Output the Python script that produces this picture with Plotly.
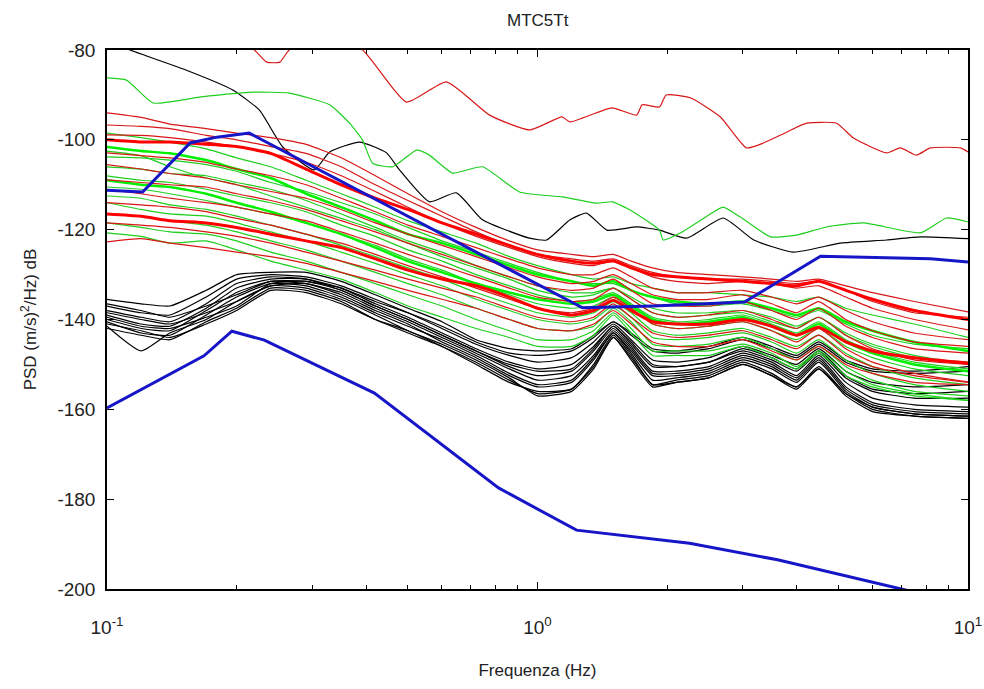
import plotly.graph_objects as go

# ---------------- data ----------------
F = [0.10, 0.12, 0.14, 0.17, 0.20, 0.24, 0.29, 0.35, 0.42, 0.50, 0.60, 0.72, 0.86, 1.0,
     1.2, 1.35, 1.5, 1.65, 1.85, 2.1, 2.5, 3.0, 3.5, 4.0, 4.5, 5.2, 6.0, 7.5, 10.0]

black_lines = [
    [-135.5, -136.5, -137.0, -133.5, -130.0, -129.5, -129.5, -131.5, -134.5, -137.5, -140.5, -144.5, -146.5, -147.0, -146.5, -143.5, -140.5, -143.5, -147.0, -147.5, -146.5, -144.5, -146.5, -148.5, -145.5, -149.5, -151.5, -152.0, -151.5],
    [-137.0, -138.5, -139.0, -135.0, -131.0, -130.0, -130.5, -132.5, -135.5, -138.5, -142.0, -145.5, -148.0, -149.5, -148.5, -145.0, -141.0, -144.5, -149.0, -149.5, -148.5, -146.0, -148.0, -150.0, -146.5, -151.5, -154.0, -155.0, -154.5],
    [-138.0, -139.5, -140.5, -136.5, -132.0, -130.5, -131.0, -133.0, -136.5, -139.5, -143.0, -146.5, -149.5, -151.0, -150.0, -146.0, -141.5, -145.5, -150.5, -150.5, -149.5, -147.0, -149.0, -151.5, -147.5, -153.0, -156.0, -157.5, -157.5],
    [-139.0, -141.0, -141.5, -137.5, -133.0, -131.0, -131.0, -133.5, -137.0, -140.0, -143.5, -147.0, -150.5, -152.5, -151.5, -147.0, -142.0, -146.0, -151.5, -151.5, -150.5, -147.5, -149.5, -152.5, -148.0, -154.0, -157.5, -159.0, -159.5],
    [-140.0, -142.0, -142.5, -138.0, -134.0, -131.5, -132.0, -134.0, -137.5, -140.5, -144.0, -147.5, -151.0, -153.5, -152.5, -148.0, -142.5, -146.5, -152.0, -152.0, -151.0, -148.0, -150.0, -153.0, -148.5, -155.0, -158.5, -160.0, -160.5],
    [-140.5, -143.0, -143.5, -139.0, -135.0, -132.0, -132.5, -135.0, -138.5, -141.5, -144.5, -148.0, -152.0, -154.5, -153.5, -148.5, -143.0, -147.0, -152.5, -152.5, -151.5, -148.5, -150.5, -153.5, -149.0, -155.5, -159.0, -160.5, -161.0],
    [-141.5, -147.0, -143.0, -140.0, -136.0, -132.5, -132.0, -134.5, -138.0, -141.0, -145.0, -148.5, -152.5, -155.0, -154.0, -149.0, -143.0, -147.5, -153.5, -153.0, -152.0, -149.0, -151.0, -154.0, -149.5, -156.0, -159.5, -161.0, -161.5],
    [-142.0, -143.5, -144.5, -140.5, -137.5, -133.0, -133.5, -136.0, -140.0, -143.0, -146.0, -149.5, -153.5, -156.5, -155.5, -150.0, -143.5, -148.0, -154.5, -153.5, -152.5, -149.5, -152.0, -155.0, -150.5, -156.5, -160.0, -161.5, -162.0],
    [-138.5, -140.0, -141.0, -138.5, -136.0, -132.5, -133.0, -135.5, -139.0, -142.5, -145.5, -149.0, -153.0, -157.0, -156.0, -151.0, -144.0, -149.0, -155.0, -154.0, -153.0, -150.0, -152.5, -155.0, -151.0, -156.5, -159.5, -161.0, -161.5],
    [-136.5, -138.0, -139.5, -137.0, -134.5, -131.5, -131.5, -133.0, -136.0, -138.5, -141.5, -145.0, -147.5, -148.0, -147.0, -144.0, -140.5, -143.0, -146.5, -147.0, -146.0, -144.0, -146.0, -148.0, -145.0, -149.0, -151.0, -151.5, -150.5],
    [-139.5, -141.5, -142.0, -139.5, -137.0, -132.0, -131.5, -133.5, -137.0, -140.0, -143.5, -147.0, -150.0, -151.5, -151.0, -146.5, -141.5, -145.0, -150.0, -150.5, -149.5, -146.5, -148.5, -151.0, -147.0, -152.5, -155.5, -156.5, -156.0],
    [-141.0, -142.5, -144.0, -141.0, -138.0, -133.5, -134.0, -136.5, -140.0, -142.5, -146.0, -150.0, -154.0, -156.0, -155.5, -150.5, -144.0, -148.5, -154.5, -154.0, -153.0, -150.0, -152.5, -155.5, -151.0, -157.0, -160.5, -161.5, -162.0],
]

green_lines = [
    [-98.5, -99.5, -100.5, -102.0, -104.0, -106.0, -109.0, -112.0, -115.0, -118.0, -120.5, -123.0, -126.0, -128.0, -130.0, -131.0, -130.5, -132.0, -133.0, -134.0, -134.0, -134.5, -135.0, -136.0, -135.0, -137.5, -139.0, -141.0, -144.0],
    [-103.8, -104.0, -104.5, -105.5, -107.0, -109.5, -111.5, -114.0, -116.5, -119.5, -122.5, -125.0, -127.5, -129.5, -131.5, -132.0, -132.0, -133.5, -135.0, -136.5, -137.0, -136.5, -138.0, -139.5, -138.0, -141.0, -143.5, -145.5, -146.5],
    [-106.0, -106.5, -107.5, -108.0, -109.5, -111.0, -113.5, -116.5, -119.5, -122.5, -125.0, -128.0, -130.5, -132.5, -134.0, -134.0, -133.0, -135.0, -137.5, -138.5, -138.5, -138.0, -139.5, -141.5, -139.5, -143.0, -145.5, -148.0, -150.0],
    [-108.0, -109.0, -109.5, -111.0, -112.5, -114.0, -116.0, -119.0, -121.5, -124.5, -127.0, -130.0, -132.5, -134.5, -136.0, -135.5, -134.0, -136.5, -139.5, -140.5, -140.0, -139.0, -141.0, -143.0, -140.5, -144.5, -147.0, -149.5, -151.0],
    [-110.5, -111.0, -112.0, -113.5, -115.0, -116.5, -118.5, -121.0, -123.5, -126.5, -129.0, -132.0, -134.5, -136.5, -137.5, -137.0, -135.0, -137.5, -141.0, -142.0, -141.5, -140.5, -142.5, -144.5, -142.0, -146.0, -148.5, -151.0, -152.5],
    [-112.5, -113.0, -114.5, -115.5, -117.0, -119.0, -121.0, -123.5, -126.0, -128.5, -131.0, -134.0, -136.5, -138.5, -139.5, -138.5, -136.0, -138.5, -142.5, -143.5, -143.0, -142.0, -144.0, -146.0, -143.5, -147.5, -150.5, -153.0, -154.5],
    [-114.0, -115.5, -116.5, -117.0, -118.5, -120.5, -122.5, -125.0, -127.5, -130.0, -132.5, -135.5, -138.0, -140.0, -141.0, -140.0, -137.0, -139.5, -144.0, -144.5, -144.0, -143.0, -145.0, -147.5, -144.5, -149.0, -152.0, -154.5, -156.0],
    [-116.5, -117.0, -118.0, -119.0, -120.5, -122.5, -124.5, -127.0, -129.5, -132.0, -134.5, -137.5, -140.0, -142.0, -142.5, -141.5, -137.5, -140.5, -145.5, -146.0, -145.5, -144.0, -146.5, -149.0, -146.0, -150.5, -153.5, -156.0, -157.0],
    [-118.5, -119.5, -120.5, -121.0, -122.5, -125.0, -127.0, -129.5, -132.0, -134.5, -137.0, -140.0, -142.5, -144.5, -144.5, -142.5, -138.5, -142.0, -147.0, -147.0, -147.0, -145.5, -147.5, -150.5, -147.0, -151.5, -154.5, -156.5, -158.0],
    [-120.7, -121.5, -123.0, -122.5, -124.5, -127.0, -129.0, -131.0, -134.0, -137.0, -139.5, -142.0, -144.0, -146.0, -146.0, -143.5, -139.0, -143.0, -148.0, -148.0, -148.0, -146.0, -148.5, -151.0, -147.5, -152.5, -155.0, -157.0, -158.0],
    [-102.5, -103.5, -106.0, -108.5, -110.0, -112.5, -115.0, -117.5, -120.0, -123.0, -126.0, -128.5, -131.0, -133.5, -135.0, -134.5, -133.0, -135.5, -138.5, -139.5, -139.0, -138.5, -140.5, -142.0, -139.5, -143.5, -146.0, -148.5, -149.5],
]
green_thick = [
    [-101.6, -102.5, -103.0, -104.5, -106.5, -108.5, -112.0, -115.0, -118.0, -121.0, -123.0, -125.5, -128.0, -130.0, -131.5, -132.5, -131.5, -133.5, -135.0, -136.0, -136.5, -136.0, -137.5, -139.0, -137.5, -140.5, -142.5, -145.0, -147.0],
    [-109.0, -110.0, -110.5, -112.0, -114.0, -116.0, -118.5, -121.0, -124.0, -127.0, -129.5, -132.0, -134.0, -135.5, -136.5, -136.0, -134.5, -137.0, -140.0, -141.0, -140.5, -139.5, -141.5, -143.5, -141.0, -145.0, -147.5, -150.0, -151.5],
]

red_lines = [
    [-94.0, -95.0, -96.5, -97.5, -98.5, -99.5, -101.0, -104.0, -108.0, -112.0, -116.0, -119.5, -122.5, -124.5, -125.5, -126.0, -125.5, -127.0, -128.5, -129.5, -130.0, -130.5, -131.0, -131.5, -131.0, -132.5, -134.0, -136.0, -138.3],
    [-96.7, -97.0, -97.5, -99.0, -100.0, -101.5, -103.0, -106.0, -110.0, -113.5, -117.0, -120.5, -123.5, -125.5, -126.5, -127.0, -126.5, -128.0, -129.5, -130.5, -131.0, -131.0, -131.5, -132.0, -131.5, -133.5, -136.0, -138.5, -139.5],
    [-98.9, -99.0, -99.5, -100.5, -101.5, -103.0, -105.0, -108.0, -111.5, -115.0, -118.5, -121.5, -124.0, -126.0, -127.5, -128.0, -127.0, -128.5, -130.5, -131.5, -132.0, -131.5, -132.0, -133.0, -132.5, -135.0, -137.5, -140.0, -142.3],
    [-102.9, -103.5, -104.0, -105.0, -106.5, -108.0, -110.0, -113.0, -116.0, -119.0, -121.5, -124.0, -126.5, -128.5, -130.0, -130.0, -128.5, -130.5, -133.0, -134.0, -134.0, -133.5, -135.0, -136.5, -135.0, -138.0, -140.5, -143.0, -144.5],
    [-105.5, -106.5, -107.5, -108.5, -110.0, -111.5, -113.0, -115.5, -118.5, -121.0, -123.5, -126.0, -128.5, -130.5, -132.0, -131.5, -130.0, -132.0, -134.5, -135.5, -135.5, -134.5, -136.5, -138.5, -136.0, -140.0, -142.5, -145.0, -146.0],
    [-108.9, -109.5, -110.0, -110.5, -112.0, -113.5, -115.5, -118.0, -120.5, -123.0, -125.5, -128.0, -130.5, -132.5, -133.5, -133.0, -131.0, -133.5, -136.5, -137.0, -137.0, -136.0, -138.0, -140.0, -137.5, -141.5, -144.0, -146.5, -147.5],
    [-111.1, -112.0, -113.0, -114.0, -115.0, -116.5, -118.0, -120.5, -123.0, -125.5, -128.0, -130.5, -133.0, -135.0, -136.0, -135.5, -133.0, -135.5, -138.5, -139.5, -139.0, -138.0, -140.0, -142.0, -139.5, -143.5, -146.5, -149.0, -150.0],
    [-114.0, -114.5, -115.0, -116.0, -117.5, -119.0, -121.0, -123.0, -125.5, -128.0, -130.5, -133.0, -135.5, -137.5, -138.5, -137.5, -135.0, -137.5, -141.0, -142.0, -141.5, -140.5, -142.5, -145.0, -142.0, -146.5, -149.5, -152.0, -153.9],
    [-118.5, -119.0, -119.5, -120.5, -121.5, -123.0, -125.0, -127.0, -129.0, -131.0, -133.0, -135.0, -137.5, -139.5, -140.5, -139.5, -136.5, -139.5, -143.0, -144.0, -143.5, -142.5, -144.5, -146.5, -143.5, -148.0, -150.5, -152.5, -154.0],
    [-122.7, -122.0, -123.0, -124.0, -125.0, -126.0, -127.5, -129.5, -131.5, -133.5, -135.5, -137.5, -140.0, -142.0, -142.5, -141.0, -138.0, -141.0, -145.0, -146.0, -146.0, -144.5, -147.0, -149.0, -146.0, -150.0, -152.0, -154.0, -154.5],
]
red_thick = [
    [-100.0, -100.5, -100.5, -101.0, -101.5, -103.0, -106.5, -110.0, -113.0, -115.5, -118.5, -121.0, -123.5, -125.5, -127.0, -127.5, -127.0, -128.5, -130.0, -130.5, -131.0, -131.5, -132.0, -132.5, -131.5, -133.5, -135.5, -138.0, -140.0],
    [-116.5, -117.0, -118.0, -118.5, -119.5, -121.0, -122.5, -124.0, -126.5, -129.0, -131.0, -132.5, -135.0, -137.5, -139.0, -138.0, -135.7, -138.0, -140.5, -141.0, -141.0, -140.0, -141.5, -143.5, -141.7, -145.0, -147.0, -148.5, -149.7],
]

# outlier traces (own frequency samples)
black_top_f = [0.100, 0.113, 0.153, 0.196, 0.226, 0.256, 0.303, 0.329, 0.386, 0.446, 0.478, 0.561, 0.648, 0.745, 0.958,
               1.05, 1.19, 1.30, 1.45, 1.70, 1.92, 2.22, 2.70, 3.18, 3.93, 5.06, 6.47, 7.76, 10.0]
black_top_db = [-78.0, -80.0, -84.5, -88.9, -93.4, -101.6, -106.7, -102.7, -100.5, -102.9, -106.7, -113.8, -111.8, -117.8, -121.9,
                -122.3, -117.8, -116.3, -120.1, -119.4, -120.1, -121.9, -117.4, -122.3, -125.0, -123.0, -122.3, -121.6, -122.0]

green_top_f = [0.100, 0.111, 0.128, 0.164, 0.218, 0.265, 0.329, 0.366, 0.392, 0.414, 0.461, 0.524, 0.561, 0.635, 0.745, 0.908,
               1.14, 1.37, 1.49, 1.64, 1.92, 1.96, 2.15, 2.56, 2.70, 2.96, 3.48, 4.00, 4.69, 5.72, 7.76, 8.92, 10.0]
green_top_db = [-86.2, -86.7, -91.8, -90.5, -89.4, -89.6, -92.2, -96.3, -100.0, -105.2, -106.0, -102.3, -103.4, -107.4, -106.0, -111.6,
                -112.7, -114.1, -113.8, -115.6, -120.1, -122.3, -120.7, -116.1, -115.0, -117.2, -121.6, -121.2, -119.4, -118.5, -120.7, -117.4, -118.3]

red_top_f = [0.100, 0.164, 0.220, 0.235, 0.252, 0.265, 0.312, 0.392, 0.496, 0.614, 0.774, 0.958, 1.14, 1.19, 1.49, 1.70, 1.75,
             1.92, 1.99, 2.27, 2.66, 3.06, 3.35, 3.79, 4.22, 4.95, 5.42, 6.47, 6.97, 7.59, 8.18, 9.61, 10.0]
red_top_db = [-70.0, -72.0, -80.0, -82.7, -82.7, -80.0, -77.0, -80.0, -91.6, -87.1, -94.5, -97.8, -94.9, -96.0, -92.9, -94.5, -92.2,
              -92.7, -90.0, -90.7, -94.9, -101.8, -100.7, -98.3, -96.3, -96.3, -99.6, -102.9, -101.8, -103.4, -101.8, -101.8, -102.7]

nhnm_f = [0.100, 0.121, 0.156, 0.180, 0.214, 1.272, 1.860, 3.026, 4.543, 5.42, 8.18, 10.0]
nhnm_db = [-111.2, -111.6, -100.7, -99.4, -98.5, -137.4, -137.0, -136.1, -125.9, -126.1, -126.5, -127.2]

nlnm_f = [0.100, 0.168, 0.195, 0.232, 0.418, 0.812, 1.232, 2.255, 3.61, 7.05, 10.0]
nlnm_db = [-159.7, -148.1, -142.6, -144.6, -156.4, -177.5, -186.9, -189.8, -193.5, -200.2, -203.5]

Y_TICKS = [-200, -180, -160, -140, -120, -100, -80]
X_TICKS = [0.1, 1, 10]
X_TICKTEXT = ["10<sup>-1</sup>", "10<sup>0</sup>", "10<sup>1</sup>"]
X_MINOR = [0.2, 0.3, 0.4, 0.5, 0.6, 0.7, 0.8, 0.9, 2, 3, 4, 5, 6, 7, 8, 9]

# ---------------- figure ----------------
fig = go.Figure()

BLACK = "#000000"
GREEN = "#1fcf1f"
GREEN_T = "#00f000"
RED = "#d81818"
RED_T = "#ff0000"
BLUE = "#1616c8"


def add(x, y, color, width, smooth=True):
    line = dict(color=color, width=width)
    if smooth:
        line.update(shape="spline", smoothing=0.5)
    fig.add_trace(go.Scatter(x=x, y=y, mode="lines", line=line,
                             hoverinfo="skip", showlegend=False))


for ys in black_lines:
    add(F, ys, BLACK, 1.2)
add(black_top_f, black_top_db, BLACK, 1.2)
for ys in green_lines:
    add(F, ys, GREEN, 1.2)
add(green_top_f, green_top_db, GREEN, 1.2)
for ys in green_thick:
    add(F, ys, GREEN_T, 2.5)
for ys in red_lines:
    add(F, ys, RED, 1.2)
add(red_top_f, red_top_db, RED, 1.2)
for ys in red_thick:
    add(F, ys, RED_T, 3)
add(nhnm_f, nhnm_db, BLUE, 3, smooth=False)
add(nlnm_f, nlnm_db, BLUE, 3, smooth=False)

FONT = "Liberation Sans Narrow, Liberation Sans, Arial, sans-serif"
TXT = "#222222"

fig.update_layout(
    width=984, height=689,
    margin=dict(l=107, r=16, t=50, b=100),
    paper_bgcolor="white", plot_bgcolor="white",
    font=dict(family=FONT, size=16, color=TXT),
    title=dict(text="MTC5Tt", x=0.5465, xanchor="center", y=0.971, yanchor="middle",
               font=dict(family=FONT, size=17, color=TXT)),
)

fig.update_xaxes(
    type="log", range=[-1, 1], automargin=False,
    tickvals=X_TICKS, ticktext=X_TICKTEXT,
    ticks="inside", ticklen=7, tickcolor="black", tickwidth=1,
    minor=dict(ticks="inside", ticklen=4, tickvals=X_MINOR, tickcolor="black", showgrid=False),
    showline=True, linecolor="black", linewidth=1.5, mirror="allticks",
    showgrid=False, zeroline=False,
    tickfont=dict(family=FONT, size=19, color=TXT),
    ticklabelstandoff=20,
    title=dict(text="Frequenza (Hz)", font=dict(family=FONT, size=17, color=TXT), standoff=28),
)
fig.update_yaxes(
    range=[-200, -80], automargin=False,
    tickvals=Y_TICKS, ticktext=[str(v) for v in Y_TICKS],
    ticks="inside", ticklen=7, tickcolor="black", tickwidth=1,
    showline=True, linecolor="black", linewidth=1.5, mirror="allticks",
    showgrid=False, zeroline=False,
    tickfont=dict(family=FONT, size=19, color=TXT),
    ticklabelstandoff=6,
    title=dict(text="PSD (m/s)<sup>2</sup>/Hz) dB", font=dict(family=FONT, size=17, color=TXT), standoff=16),
)

fig.write_html("out.html")
